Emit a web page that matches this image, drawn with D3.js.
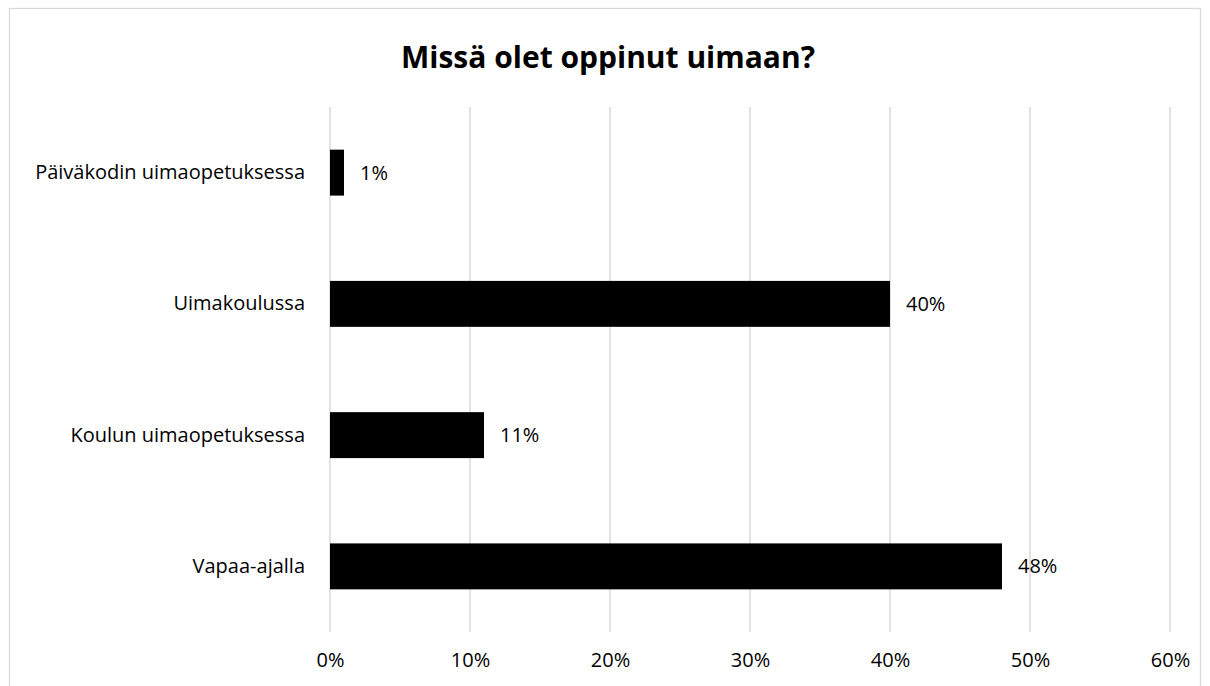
<!DOCTYPE html>
<html>
<head>
<meta charset="utf-8">
<script src="https://cdn.jsdelivr.net/npm/d3@7"></script>
<style>
  body { margin: 0; background: #fff; }
  svg { font-family: 'Open Sans', sans-serif; }
</style>
</head>
<body>
<div id="app"></div>
<script>
let categories = ['Päiväkodin uimaopetuksessa', 'Uimakoulussa', 'Koulun uimaopetuksessa', 'Vapaa-ajalla']
let values = [1, 40, 11, 48]
let tickValues = [0, 10, 20, 30, 40, 50, 60]
let title = 'Missä olet oppinut uimaan?'

const width = 1210
const height = 686

const svg = d3.select('#app').append('svg')
  .attr('width', width)
  .attr('height', height)

// chart frame
svg.append('rect')
  .attr('x', 9.5).attr('y', 8.5)
  .attr('width', 1191).attr('height', 700)
  .attr('fill', '#fff')
  .attr('stroke', '#d9d9d9')
  .attr('stroke-width', 1.3)

svg.append('text')
  .attr('x', 608).attr('y', 68)
  .attr('text-anchor', 'middle')
  .attr('font-size', 30)
  .attr('font-weight', 'bold')
  .attr('fill', '#000')
  .text(title)

const x = d3.scaleLinear().domain([0, 60]).range([330, 1170])
const y = d3.scaleBand().domain(categories).range([107, 632]).paddingInner(0.65).paddingOuter(0.325)

// gridlines
svg.append('g')
  .selectAll('line')
  .data(tickValues)
  .enter()
  .append('line')
  .attr('x1', d => x(d)).attr('x2', d => x(d))
  .attr('y1', 107).attr('y2', 632)
  .attr('stroke', '#d9d9d9')
  .attr('stroke-width', 1.5)

// x axis labels
svg.append('g')
  .attr('transform', 'translate(0,632)')
  .call(d3.axisBottom(x).tickValues(tickValues).tickSize(0).tickPadding(21).tickFormat(d => d + '%'))
  .call(g => g.select('.domain').remove())
  .selectAll('text')
  .attr('font-size', 20)
  .attr('font-family', "'Open Sans', sans-serif")
  .attr('fill', '#000')

// y axis labels
svg.append('g')
  .attr('transform', 'translate(330,0)')
  .call(d3.axisLeft(y).tickSize(0).tickPadding(25))
  .call(g => g.select('.domain').remove())
  .selectAll('text')
  .attr('font-size', 20)
  .attr('font-family', "'Open Sans', sans-serif")
  .attr('fill', '#000')

// bars
svg.append('g')
  .selectAll('rect')
  .data(values)
  .enter()
  .append('rect')
  .attr('x', x(0))
  .attr('y', (d, i) => y(categories[i]))
  .attr('width', d => x(d) - x(0))
  .attr('height', y.bandwidth())
  .attr('fill', '#000')

// data labels
svg.append('g')
  .selectAll('text')
  .data(values)
  .enter()
  .append('text')
  .attr('x', d => x(d) + 16)
  .attr('y', (d, i) => y(categories[i]) + y.bandwidth() / 2)
  .attr('dy', '0.35em')
  .attr('font-size', 20)
  .attr('fill', '#000')
  .text(d => d + '%')
</script>
</body>
</html>
